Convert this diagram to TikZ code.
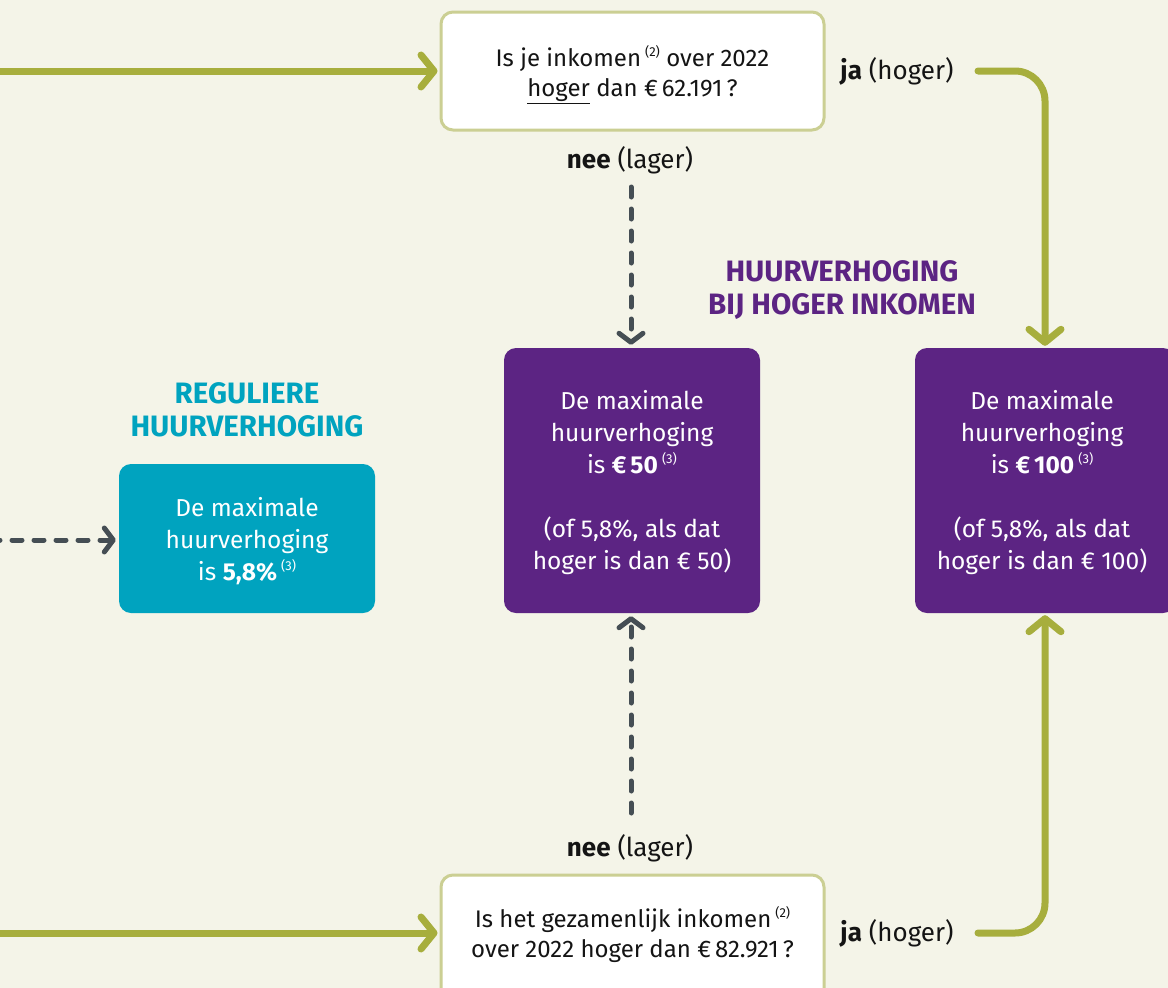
\documentclass[tikz,border=0pt]{standalone}
\usepackage{fontspec}
\setmainfont{Fira Sans}
\usetikzlibrary{arrows.meta}
\definecolor{bgc}{HTML}{F4F4E8}
\definecolor{olive}{HTML}{A7AE3D}
\definecolor{lolive}{HTML}{CBCF93}
\definecolor{rpurple}{HTML}{5C2483}
\definecolor{rteal}{HTML}{00A3BF}
\definecolor{dgray}{HTML}{454E54}
\definecolor{txt}{HTML}{141414}
\newcommand\bodyf{\fontsize{24}{30}\selectfont}
\newcommand\lblf{\fontsize{26}{30}\selectfont}
\newcommand\boxf{\fontsize{24.5}{32}\selectfont}
\newcommand\titf{\fontsize{29.5}{33}\selectfont\bfseries}
\newcommand\fn[1]{\,\raisebox{0.42em}{\fontsize{13}{13}\selectfont(#1)}}
\begin{document}
\begin{tikzpicture}[x=1pt,y=-1pt,
  qbox/.style={draw=lolive, line width=3pt, fill=white, rounded corners=12pt,
    minimum width=383pt, align=center, font=\bodyf, text=txt, inner sep=0pt},
  pbox/.style={fill=rpurple, rounded corners=12pt, text=white, align=center,
    font=\boxf, minimum width=256pt, minimum height=265pt, inner sep=0pt},
  tbox/.style={fill=rteal, rounded corners=12pt, text=white, align=center,
    font=\boxf, minimum width=256pt, minimum height=149pt, inner sep=0pt},
  lbl/.style={font=\lblf, text=txt, inner sep=0pt},
  ttl/.style={font=\titf, align=center, inner sep=0pt},
  garrow/.style={draw=olive, line width=7pt, line cap=round,
    -{Straight Barb[length=13pt,width=32pt,round]}, shorten >=2pt},
  darrow/.style={draw=dgray, line width=5pt, line cap=round,
    dash pattern=on 10pt off 12pt,
    -{Straight Barb[length=9pt,width=24pt,round]}, shorten >=3pt}]
\fill[bgc] (0,0) rectangle (1168,988);
\useasboundingbox (0,0) rectangle (1168,988);

% boxes
\node[qbox, minimum height=118pt] (q1) at (632.5,71) {};
\node[font=\bodyf, text=txt, align=center, inner sep=0pt] (q1t) at (632.5,75)
  {Is je inkomen\fn{2} over 2022\\\underline{hoger} dan €\,62.191\,?};
\node[qbox, minimum height=126pt] (q2) at (632.5,938) {};
\node[font=\bodyf, text=txt, align=center, inner sep=0pt] (q2t) at (632.5,935)
  {Is het gezamenlijk inkomen\fn{2}\\over 2022 hoger dan €\,82.921\,?};
\node[pbox] (m50) at (632,480.5) {};
\node[align=center, font=\boxf, text=white, inner sep=0pt] (m50t) at (632,483)
  {De maximale\\huurverhoging\\is \textbf{€\,50}\fn{3}\\[32pt](of 5,8\%, als dat\\hoger is dan € 50)};
\node[pbox, minimum width=260pt] (m100) at (1045,480.5) {};
\node[align=center, font=\boxf, text=white, inner sep=0pt] (m100t) at (1042,483)
  {De maximale\\huurverhoging\\is \textbf{€\,100}\fn{3}\\[32pt](of 5,8\%, als dat\\hoger is dan € 100)};
\node[tbox] (reg) at (247,538.5) {};
\node[align=center, font=\boxf, text=white, inner sep=0pt] (regt) at (247,541)
  {De maximale\\huurverhoging\\is \textbf{5,8\%}\fn{3}};

% titles
\node[ttl, text=rteal] (treg) at (247,410) {REGULIERE\\HUURVERHOGING};
\node[ttl, text=rpurple] (thog) at (842,290) {HUURVERHOGING\\BIJ HOGER INKOMEN};

% labels
\node[lbl] (nee1) at (630,160) {\textbf{nee} (lager)};
\node[lbl] (ja1) at (897,71) {\textbf{ja} (hoger)};
\node[lbl] (nee2) at (630,848) {\textbf{nee} (lager)};
\node[lbl] (ja2) at (897,933) {\textbf{ja} (hoger)};

% connector ends
\coordinate (in1) at (-10,71);
\coordinate (in2) at (-10,933);
\coordinate (in3) at (-10,540);
\coordinate (d1s) at (631,187);
\coordinate (d2s) at (631,813);
\coordinate (j1s) at (978,71);
\coordinate (j2s) at (978,933);

% connectors
\draw[garrow] (in1) -- (q1.west);
\draw[garrow] (in2) -- (q2.west |- in2);
\draw[darrow] (in3) -- (reg.west |- in3);
\draw[darrow] (d1s) -- (d1s |- m50.north);
\draw[darrow] (d2s) -- (d2s |- m50.south);
\draw[garrow, rounded corners=30pt] (j1s) -- (j1s -| m100.north) -- (m100.north);
\draw[garrow, rounded corners=30pt] (j2s) -- (j2s -| m100.south) -- (m100.south);
\end{tikzpicture}
\end{document}
